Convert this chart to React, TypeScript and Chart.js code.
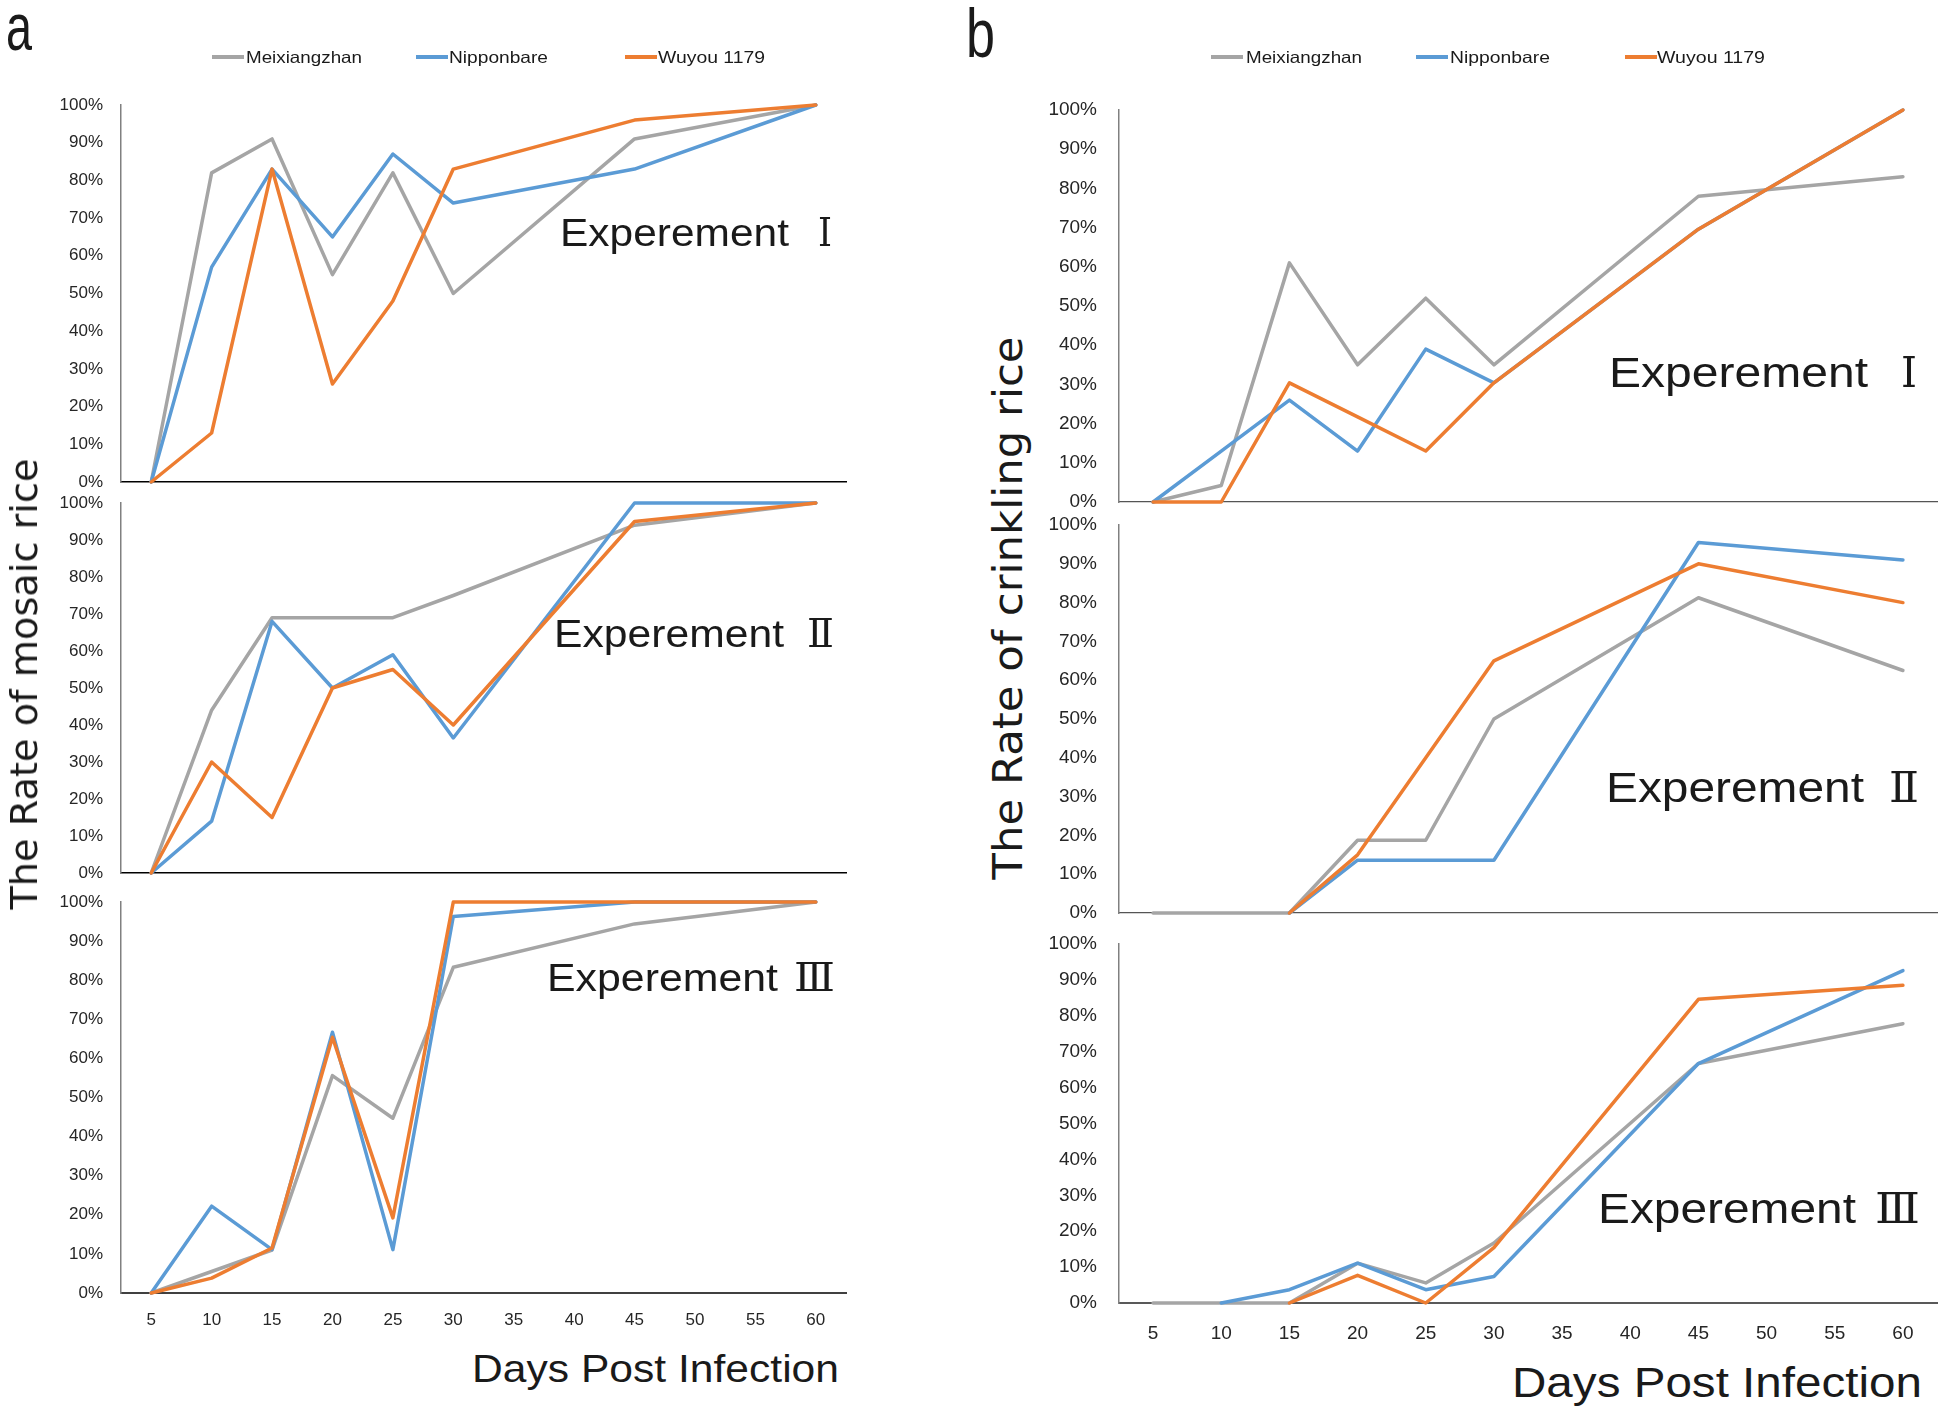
import React, { useEffect, useRef } from 'react';
import { Chart, registerables } from 'chart.js';

Chart.register(...registerables);

// ---------------- data ----------------
const DAYS = ['5', '10', '15', '20', '25', '30', '35', '40', '45', '50', '55', '60'];
const SERIES_NAMES = ['Meixiangzhan', 'Nipponbare', 'Wuyou 1179'];
const Y_TICKS_MAX = 100;
const Y_TICK_STEP = 10;

// Panel a: rate of mosaic rice (%)
const mosaic1Meixiangzhan = [0, 82, 91, 55, 82, 50, null, null, 91, null, null, 100];
const mosaic1Nipponbare = [0, 57, 83, 65, 87, 74, null, null, 83, null, null, 100];
const mosaic1Wuyou = [0, 13, 83, 26, 48, 83, null, null, 96, null, null, 100];

const mosaic2Meixiangzhan = [0, 44, 69, 69, 69, 75, null, null, 94, null, null, 100];
const mosaic2Nipponbare = [0, 14, 68, 50, 59, 36.5, null, null, 100, null, null, 100];
const mosaic2Wuyou = [0, 30, 15, 50, 55, 40, null, null, 95, null, null, 100];

const mosaic3Meixiangzhan = [0, 5.5, 11, 55.6, 44.7, 83.3, null, null, 94.4, null, null, 100];
const mosaic3Nipponbare = [0, 22.2, 11.1, 66.7, 11.1, 96.3, null, null, 100, null, null, 100];
const mosaic3Wuyou = [0, 3.8, 11.5, 65.4, 19.2, 100, null, null, 100, null, null, 100];

// Panel b: rate of crinkling rice (%)
const crinkle1Meixiangzhan = [0, 4.2, 61, 35, 52, 35, null, null, 78, null, null, 83];
const crinkle1Nipponbare = [0, 13, 26, 13, 39, 30.4, null, null, 69.6, null, null, 100];
const crinkle1Wuyou = [0, 0, 30.4, 21.7, 13, 30.4, null, null, 69.6, null, null, 100];

const crinkle2Meixiangzhan = [0, 0, 0, 18.75, 18.75, 50, null, null, 81.25, null, null, 62.5];
const crinkle2Nipponbare = [null, null, 0, 13.6, 13.6, 13.6, null, null, 95.5, null, null, 91];
const crinkle2Wuyou = [null, null, 0, 15, 40, 65, null, null, 90, null, null, 80];

const crinkle3Meixiangzhan = [0, 0, 0, 11.1, 5.6, 16.7, null, null, 66.7, null, null, 77.8];
const crinkle3Nipponbare = [null, 0, 3.7, 11.1, 3.7, 7.4, null, null, 66.7, null, null, 92.6];
const crinkle3Wuyou = [null, null, 0, 7.7, 0, 15.4, null, null, 84.6, null, null, 88.5];

// ---------------- styles / layout ----------------
const COLORS = ['#A5A5A5', '#5B9BD5', '#ED7D31'];
const SANS = "'Liberation Sans', Arial, sans-serif";
const TITLE_FONT = "'DejaVu Sans', 'Open Sans', sans-serif";
const NUMERAL_FONT = "'DejaVu Serif', 'Liberation Serif', 'Noto Sans CJK SC', serif";
const TEXT_COLOR = '#1a1a1a';
const TICK_COLOR = '#262626';

const Y_W = 80;
const PAD_T = 40;
const PAD_R = 8;

type Border = { color: string; width: number; dash: number[] };

type PanelSpec = {
  L: number; R: number; T: number; B: number;
  series: (number | null)[][];
  xBorder: Border;
  showX: boolean;
  tickSize: number;
  yPad: number;
  xPad: number;
};

const A_L = 121, A_R = 846;
const B_L = 1119, B_R = 1937;
const DASH_A: Border = { color: '#000000', width: 1.5, dash: [5, 3] };
const DOT_B: Border = { color: '#555555', width: 1.2, dash: [2, 2] };

const PANELS: PanelSpec[] = [
  { L: A_L, R: A_R, T: 105, B: 482, series: [mosaic1Meixiangzhan, mosaic1Nipponbare, mosaic1Wuyou], xBorder: DASH_A, showX: false, tickSize: 17, yPad: 18, xPad: 0 },
  { L: A_L, R: A_R, T: 503, B: 873, series: [mosaic2Meixiangzhan, mosaic2Nipponbare, mosaic2Wuyou], xBorder: DASH_A, showX: false, tickSize: 17, yPad: 18, xPad: 0 },
  { L: A_L, R: A_R, T: 902, B: 1293, series: [mosaic3Meixiangzhan, mosaic3Nipponbare, mosaic3Wuyou], xBorder: { color: '#404040', width: 2, dash: [] }, showX: true, tickSize: 17, yPad: 18, xPad: 17 },
  { L: B_L, R: B_R, T: 110, B: 502, series: [crinkle1Meixiangzhan, crinkle1Nipponbare, crinkle1Wuyou], xBorder: DOT_B, showX: false, tickSize: 19, yPad: 22, xPad: 0 },
  { L: B_L, R: B_R, T: 525, B: 913, series: [crinkle2Meixiangzhan, crinkle2Nipponbare, crinkle2Wuyou], xBorder: DOT_B, showX: false, tickSize: 19, yPad: 22, xPad: 0 },
  { L: B_L, R: B_R, T: 944, B: 1303, series: [crinkle3Meixiangzhan, crinkle3Nipponbare, crinkle3Wuyou], xBorder: { color: '#595959', width: 2, dash: [] }, showX: true, tickSize: 19, yPad: 22, xPad: 19 },
];

// ---------------- helpers ----------------
let measureCtx: CanvasRenderingContext2D | null = null;
function textWidth(text: string, font: string): number {
  if (!measureCtx) measureCtx = document.createElement('canvas').getContext('2d');
  if (!measureCtx) return 1;
  measureCtx.font = font;
  return measureCtx.measureText(text).width || 1;
}

type LabelProps = {
  text: string; x: number; y: number; size: number; family: string;
  width?: number; rotate?: boolean; top?: boolean;
};

function Label({ text, x, y, size, family, width, rotate, top }: LabelProps) {
  const font = `normal ${size}px ${family}`;
  const s = width ? width / textWidth(text, font) : 1;
  const base: React.CSSProperties = {
    position: 'absolute', fontFamily: family, fontSize: size, lineHeight: 1,
    whiteSpace: 'nowrap', color: TEXT_COLOR,
  };
  if (rotate) {
    return (
      <div style={{ ...base, left: x, top: y, transform: `translate(-50%, -50%) rotate(-90deg) scaleX(${s})`, transformOrigin: 'center center' }}>{text}</div>
    );
  }
  if (top) {
    return (
      <div style={{ ...base, left: x, top: y, transform: `scaleX(${s})`, transformOrigin: 'left top' }}>{text}</div>
    );
  }
  return (
    <div style={{ ...base, left: x, top: y, transform: `translateY(-50%) scaleX(${s})`, transformOrigin: 'left center' }}>{text}</div>
  );
}

function SubChart({ p }: { p: PanelSpec }) {
  const ref = useRef<HTMLCanvasElement | null>(null);
  const xH = p.showX ? 50 : 40;
  const width = Y_W + (p.R - p.L) + PAD_R;
  const height = PAD_T + (p.B - p.T) + xH;
  useEffect(() => {
    if (!ref.current) return;
    const chart = new Chart(ref.current, {
      type: 'line',
      data: {
        labels: DAYS,
        datasets: p.series.map((vals, i) => ({
          label: SERIES_NAMES[i],
          data: vals,
          borderColor: COLORS[i],
          backgroundColor: COLORS[i],
          borderWidth: 3.5,
          pointRadius: 0,
          pointHoverRadius: 0,
          tension: 0,
          spanGaps: true,
          order: 3 - i,
          clip: false,
          borderJoinStyle: 'round',
          borderCapStyle: 'round',
        })),
      },
      options: {
        responsive: false,
        maintainAspectRatio: false,
        animation: false,
        devicePixelRatio: 1,
        layout: { padding: { top: PAD_T, right: PAD_R, left: 0, bottom: 0 } },
        plugins: { legend: { display: false }, tooltip: { enabled: false } },
        scales: {
          x: {
            type: 'category',
            offset: true,
            grid: { display: false, drawTicks: false },
            border: { display: true, color: p.xBorder.color, width: p.xBorder.width, dash: p.xBorder.dash },
            ticks: {
              display: p.showX, autoSkip: false, maxRotation: 0, padding: p.xPad,
              color: TICK_COLOR, font: { family: SANS, size: p.tickSize },
            },
            afterFit: (s: any) => { s.height = xH; },
          },
          y: {
            min: 0, max: Y_TICKS_MAX,
            grid: { display: false, drawTicks: false },
            border: { display: true, color: '#808080', width: 1.5 },
            ticks: {
              stepSize: Y_TICK_STEP, padding: p.yPad, color: TICK_COLOR,
              font: { family: SANS, size: p.tickSize },
              callback: (v: any) => `${v}%`,
            },
            afterFit: (s: any) => { s.width = Y_W; },
          },
        },
      } as any,
    });
    return () => chart.destroy();
  }, []);
  return (
    <canvas
      ref={ref}
      width={width}
      height={height}
      style={{ position: 'absolute', left: p.L - Y_W, top: p.T - PAD_T, width, height }}
    />
  );
}

type LegendSpec = { lineX: number; textX: number; textW: number };
const LEGEND_A: LegendSpec[] = [
  { lineX: 212, textX: 246, textW: 116 },
  { lineX: 416, textX: 449, textW: 99 },
  { lineX: 625, textX: 658, textW: 107 },
];
const LEGEND_B: LegendSpec[] = [
  { lineX: 1211, textX: 1246, textW: 116 },
  { lineX: 1416, textX: 1450, textW: 100 },
  { lineX: 1625, textX: 1657, textW: 108 },
];
const LEGEND_Y = 57;

function Legend({ items }: { items: LegendSpec[] }) {
  return (
    <>
      {items.map((it, i) => (
        <React.Fragment key={i}>
          <div style={{ position: 'absolute', left: it.lineX, top: LEGEND_Y - 2, width: 32, height: 4, background: COLORS[i] }} />
          <Label text={SERIES_NAMES[i]} x={it.textX} y={LEGEND_Y} size={16.5} family={SANS} width={it.textW} />
        </React.Fragment>
      ))}
    </>
  );
}

type ExpSpec = { x: number; w: number; nx: number; nw: number; y: number; size: number; numeral: string };
const EXPERIMENTS: ExpSpec[] = [
  { x: 560, w: 229, nx: 818, nw: 14, y: 232, size: 39, numeral: 'Ⅰ' },
  { x: 554, w: 230, nx: 807, nw: 27, y: 633, size: 39, numeral: 'Ⅱ' },
  { x: 547, w: 231, nx: 794, nw: 41, y: 977, size: 39, numeral: 'Ⅲ' },
  { x: 1609, w: 259, nx: 1901, nw: 16, y: 373, size: 42, numeral: 'Ⅰ' },
  { x: 1606, w: 258, nx: 1889, nw: 30, y: 788, size: 42, numeral: 'Ⅱ' },
  { x: 1598, w: 258, nx: 1875, nw: 45, y: 1209, size: 42, numeral: 'Ⅲ' },
];

export default function App() {
  return (
    <div style={{ position: 'absolute', left: 0, top: 0, width: 1946, height: 1415, background: '#ffffff', overflow: 'hidden' }}>
      {PANELS.map((p, i) => <SubChart key={i} p={p} />)}

      <Label text="a" x={6} y={-7} size={67} family={SANS} width={26} top />
      <Label text="b" x={966} y={-1} size={68} family={SANS} width={29} top />

      <Legend items={LEGEND_A} />
      <Legend items={LEGEND_B} />

      {EXPERIMENTS.map((e, i) => (
        <React.Fragment key={i}>
          <Label text="Experement" x={e.x} y={e.y} size={e.size} family={SANS} width={e.w} />
          <Label text={e.numeral} x={e.nx} y={e.y} size={e.size} family={NUMERAL_FONT} width={e.nw} />
        </React.Fragment>
      ))}

      <Label text="Days Post Infection" x={472} y={1368} size={39} family={SANS} width={367} />
      <Label text="Days Post Infection" x={1512} y={1383} size={42} family={SANS} width={410} />

      <Label text="The Rate of mosaic rice" x={24} y={684} size={38} family={TITLE_FONT} width={451} rotate />
      <Label text="The Rate of crinkling rice" x={1008} y={608} size={40} family={TITLE_FONT} width={543} rotate />
    </div>
  );
}
